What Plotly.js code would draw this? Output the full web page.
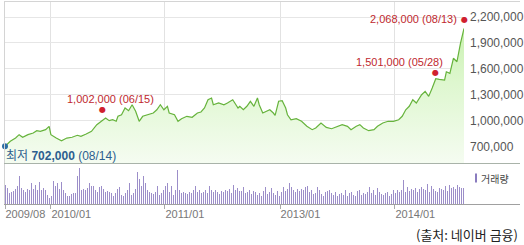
<!DOCTYPE html>
<html><head><meta charset="utf-8">
<script src="https://cdn.plot.ly/plotly-3.0.1.min.js"></script>
<style>html,body{margin:0;padding:0;background:#fff;}#chart{width:524px;height:245px;}</style>
</head><body><div id="chart"></div>
<script>
// ---- data ----
const weeks = [0,3,6,8,10,13,16,18,20,23,25,26,29,32,35,38,41,43,46,49,52,55,57,59,61,63,64,66,68,70,72,74,76,78,81,84,86,88,90,92,93,96,98,100,103,106,109,111,113,115,117,118,121,124,126,129,132,133,135,137,139,141,143,144,146,148,150,152,153,155,157,159,160,162,165,168,171,174,176,179,182,185,188,191,194,196,199,201,203,206,209,211,214,217,220,223,225,227,229,231,233,236,238,240,242,244,246,249,250,252,254,256,258,259,260];
const prices = [702000,760000,798000,837000,807000,837000,856000,883000,876000,895000,
934000,837000,798000,767000,798000,807000,830000,818000,845000,876000,
953000,1002000,1030000,999000,1010000,992000,1050000,1068000,1146000,1115000,
1184000,1108000,992000,1050000,1068000,1088000,1126000,1184000,1126000,1166000,
1088000,1068000,992000,1022000,1050000,1038000,1088000,1100000,1146000,1242000,
1262000,1184000,1204000,1184000,1204000,1242000,1146000,1166000,1126000,1166000,
1224000,1166000,1262000,1184000,1088000,1108000,1126000,1088000,1061000,1224000,
1231000,1146000,1068000,1010000,1022000,992000,934000,895000,914000,972000,
922000,906000,934000,953000,934000,895000,934000,953000,914000,883000,
895000,934000,972000,992000,992000,1010000,1050000,1126000,1166000,1242000,
1204000,1300000,1339000,1281000,1378000,1485000,1478000,1470000,1566000,1548000,
1722000,1682000,1895000,1972000,2068000];
const volumes = [19,16,11,12,13,15,18,28,16,14,12,15,14,21,15,19,14,22,14,16,
14,9,6,8,23,18,21,15,22,14,11,8,8,10,11,11,28,36,14,15,
14,16,21,18,18,14,12,17,18,15,12,13,12,11,8,11,15,17,9,8,
11,14,21,9,11,15,32,25,18,28,21,14,12,11,10,12,18,9,11,14,
18,21,12,18,9,14,34,14,11,12,11,10,12,11,14,18,12,14,11,12,
14,11,18,14,12,14,12,10,13,12,14,13,15,11,19,14,16,13,
13,17,11,12,14,10,13,12,
9,11,8,13,17,10,12,16,11,9,13,8,12,
17,13,15,21,17,14,12,15,13,15,14,17,18,12,14,10,11,
17,14,10,8,12,13,14,11,9,12,
8,10,11,9,14,8,11,12,9,8,13,14,9,11,10,12,
17,11,14,9,16,12,10,9,11,12,8,10,14,11,
14,12,14,24,12,17,13,15,14,16,12,15,17,
15,14,20,12,18,15,13,12,16,15,14,18,13,19,16,17,15,19,17,16,16].map(v => v*1000);
const tickWeeks = [0, 26, 90.6, 155.8, 220.9];
const tickLabels = ['2009/08','2010/01','2011/01','2013/01','2014/01'];
const priceTicks = [700000,1000000,1300000,1600000,1900000,2200000];
const highWeeks = [55, 244, 260];
const highPrices = [1002000, 1501000, 2068000];
const highDates = ['06/15','05/28','08/13'];
const lowWeek = 0, lowPrice = 702000, lowDate = '08/14';

// ---- geometry helpers (pixels -> paper) ----
const W=524,H=245,L=5,R=60,T=2,B=41;
const PW=W-L-R, PH=H-T-B;
const px = x => (x-L)/PW;
const py = y => (H-B-y)/PH;
const fmt = v => v.toLocaleString('en-US');

const price = {x:weeks, y:prices, type:'scatter', mode:'lines', xaxis:'x', yaxis:'y',
  line:{color:'#66b33c', width:1.2}, fill:'tozeroy',
  fillgradient:{type:'vertical', start:509000, stop:2374000,
    colorscale:[[0,'#f5fcf1'],[0.5,'#def7cf'],[1,'#bfeea2']]},
  hoverinfo:'skip'};
const low = {x:[lowWeek], y:[lowPrice], type:'scatter', mode:'markers', xaxis:'x', yaxis:'y',
  marker:{color:'#2d6da4', size:6}, cliponaxis:false, hoverinfo:'skip'};
const vol = {x:volumes.map((_,i)=>i), y:volumes, type:'bar', xaxis:'x2', yaxis:'y2',
  marker:{color:'#9c8ec9', line:{width:0}}, width:0.5, hoverinfo:'skip'};

const annFont = {family:'Liberation Sans, Arial, sans-serif', size:11, color:'#c0282e'};
const textShift = [[7.9,21.4,'center'],[9.2,15.4,'right'],[-5,9.4,'right']];
const dotShift = [11.4,4.4,9.4];
const annotations = [];
highWeeks.forEach((w,i)=>{
  annotations.push({x:w, y:highPrices[i], xref:'x', yref:'y', text:'●', showarrow:false,
    font:{family:'DejaVu Sans', size:8, color:'#d0202e'}, yshift:dotShift[i]});
  annotations.push({x:w, y:highPrices[i], xref:'x', yref:'y', text:fmt(highPrices[i])+' ('+highDates[i]+')',
    showarrow:false, font:annFont, xanchor:textShift[i][2], xshift:textShift[i][0], yshift:textShift[i][1]});
});
annotations.push({x:lowWeek, y:lowPrice, xref:'x', yref:'y', xanchor:'left', yanchor:'middle', showarrow:false,
  text:'최저 <b>'+fmt(lowPrice)+'</b> ('+lowDate+')', xshift:-1, yshift:-10,
  font:{family:'Liberation Sans, Noto Sans CJK KR, sans-serif', size:12, color:'#2d5f8f'}});
annotations.push({x:px(479), y:py(178), xref:'paper', yref:'paper', xanchor:'left', yanchor:'middle', showarrow:false,
  text:'거래량', font:{family:'Noto Sans CJK KR', size:10, color:'#444'}});
annotations.push({x:px(520), y:py(235), xref:'paper', yref:'paper', xanchor:'right', yanchor:'middle', showarrow:false,
  text:'(출처: 네이버 금융)', font:{family:'Noto Sans CJK KR', size:13, color:'#222'}});

const line = (x0,y0,x1,y1,c)=>({type:'line', xref:'paper', yref:'paper', x0:px(x0), y0:py(y0), x1:px(x1), y1:py(y1), line:{color:c, width:1}, layer:'above'});
const shapes = [
  line(4,1.5,520,1.5,'#d4d4d4'),
  line(4.5,1.5,4.5,204,'#d4d4d4'),
  line(4,163.5,520,163.5,'#a9b3a9'),
  line(4,204.5,520,204.5,'#a0a0a0'),
  {type:'rect', xref:'paper', yref:'paper', x0:px(475), x1:px(477), y0:py(182.5), y1:py(173.5), fillcolor:'#8a7cbf', line:{width:0}, layer:'above'}
];

const layout = {
  width:W, height:H, margin:{l:L,r:R,t:T,b:B}, paper_bgcolor:'#fff', plot_bgcolor:'rgba(0,0,0,0)',
  showlegend:false, bargap:0,
  xaxis:{range:[0,260], domain:[0,1], anchor:'free', position:0, showgrid:true, gridcolor:'#e2e2e2', gridwidth:1,
    tickmode:'array', tickvals:tickWeeks, ticktext:tickLabels, ticks:'outside', ticklen:4, tickcolor:'#aaa',
    tickangle:0, ticklabelposition:'outside right', tickfont:{family:'Liberation Sans, Arial', size:11, color:'#777'},
    showline:false, zeroline:false, fixedrange:true},
  yaxis:{domain:[py(163),py(T)], range:[509000,2374000], side:'right', anchor:'x',
    tickmode:'array', tickvals:priceTicks, ticktext:priceTicks.map(fmt), ticks:'', ticklabelstandoff:5,
    tickfont:{family:'Liberation Sans, Arial', size:12, color:'#555'},
    showgrid:true, gridcolor:'#e6e6e6', gridwidth:1, zeroline:false, showline:false, fixedrange:true},
  xaxis2:{range:[-0.25,229.25], domain:[0,1], anchor:'y2', visible:false, fixedrange:true},
  yaxis2:{domain:[0,py(163)], range:[0,41000], anchor:'x2', visible:false, fixedrange:true},
  annotations, shapes
};
Plotly.newPlot('chart',[vol, price, low], layout, {staticPlot:true, displayModeBar:false});
</script></body></html>
